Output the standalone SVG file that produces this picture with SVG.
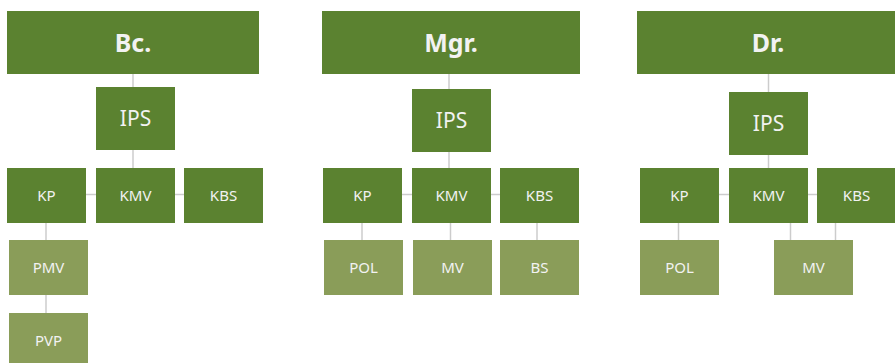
<svg xmlns="http://www.w3.org/2000/svg" width="895" height="363" viewBox="0 0 895 363">
<style>
.d{fill:#5b8230}
.l{fill:#8a9d59}
text{fill:#f2f2f2;font-family:"Noto Sans","Open Sans",sans-serif;text-anchor:middle}
.h{font-size:25px;font-weight:bold}
.m{font-size:21px}
.s{font-size:15px}
#conn line{stroke:#cccccc;stroke-width:1.5}
</style>
<rect width="895" height="363" fill="#ffffff"/>
<g id="conn">
<line x1="133" y1="74" x2="133" y2="87"/>
<line x1="133" y1="150" x2="133" y2="168"/>
<line x1="86" y1="194.5" x2="96" y2="194.5"/>
<line x1="175" y1="194.5" x2="184" y2="194.5"/>
<line x1="46" y1="223" x2="46" y2="240"/>
<line x1="46" y1="295" x2="46" y2="313"/>
<line x1="449" y1="74" x2="449" y2="89"/>
<line x1="449" y1="152" x2="449" y2="168"/>
<line x1="402" y1="194.5" x2="412" y2="194.5"/>
<line x1="491" y1="194.5" x2="500" y2="194.5"/>
<line x1="362" y1="223" x2="362" y2="240"/>
<line x1="450.5" y1="223" x2="450.5" y2="240"/>
<line x1="537" y1="223" x2="537" y2="240"/>
<line x1="768.5" y1="74" x2="768.5" y2="92"/>
<line x1="768.5" y1="155" x2="768.5" y2="168"/>
<line x1="719" y1="194.5" x2="729" y2="194.5"/>
<line x1="808" y1="194.5" x2="817" y2="194.5"/>
<line x1="678.5" y1="223" x2="678.5" y2="240"/>
<line x1="790.5" y1="223" x2="790.5" y2="240"/>
<line x1="835.5" y1="223" x2="835.5" y2="240"/>
</g>
<g id="bc"><rect class="d" x="7" y="11" width="252" height="63"/><text class="h" x="133" y="52">Bc.</text></g>
<g id="bc-ips"><rect class="d" x="96" y="87" width="79" height="63"/><text class="m" x="135.5" y="126">IPS</text></g>
<g id="bc-kp"><rect class="d" x="7" y="168" width="79" height="55"/><text class="s" x="46.5" y="201">KP</text></g>
<g id="bc-kmv"><rect class="d" x="96" y="168" width="79" height="55"/><text class="s" x="135.5" y="201">KMV</text></g>
<g id="bc-kbs"><rect class="d" x="184" y="168" width="79" height="55"/><text class="s" x="223.5" y="201">KBS</text></g>
<g id="bc-pmv"><rect class="l" x="9" y="240" width="79" height="55"/><text class="s" x="48.5" y="273">PMV</text></g>
<g id="bc-pvp"><rect class="l" x="9" y="313" width="79" height="55"/><text class="s" x="48.5" y="346">PVP</text></g>

<g id="mgr"><rect class="d" x="322" y="11" width="258" height="63"/><text class="h" x="451" y="52">Mgr.</text></g>
<g id="mgr-ips"><rect class="d" x="412" y="89" width="79" height="63"/><text class="m" x="451.5" y="128">IPS</text></g>
<g id="mgr-kp"><rect class="d" x="323" y="168" width="79" height="55"/><text class="s" x="362.5" y="201">KP</text></g>
<g id="mgr-kmv"><rect class="d" x="412" y="168" width="79" height="55"/><text class="s" x="451.5" y="201">KMV</text></g>
<g id="mgr-kbs"><rect class="d" x="500" y="168" width="79" height="55"/><text class="s" x="539.5" y="201">KBS</text></g>
<g id="mgr-pol"><rect class="l" x="324" y="240" width="79" height="55"/><text class="s" x="363.5" y="273">POL</text></g>
<g id="mgr-mv"><rect class="l" x="413" y="240" width="79" height="55"/><text class="s" x="452.5" y="273">MV</text></g>
<g id="mgr-bs"><rect class="l" x="500" y="240" width="79" height="55"/><text class="s" x="539.5" y="273">BS</text></g>

<g id="dr"><rect class="d" x="637" y="11" width="258" height="63"/><text class="h" x="768" y="52">Dr.</text></g>
<g id="dr-ips"><rect class="d" x="729" y="92" width="79" height="63"/><text class="m" x="768.5" y="131">IPS</text></g>
<g id="dr-kp"><rect class="d" x="640" y="168" width="79" height="55"/><text class="s" x="679.5" y="201">KP</text></g>
<g id="dr-kmv"><rect class="d" x="729" y="168" width="79" height="55"/><text class="s" x="768.5" y="201">KMV</text></g>
<g id="dr-kbs"><rect class="d" x="817" y="168" width="79" height="55"/><text class="s" x="856.5" y="201">KBS</text></g>
<g id="dr-pol"><rect class="l" x="640" y="240" width="79" height="55"/><text class="s" x="679.5" y="273">POL</text></g>
<g id="dr-mv"><rect class="l" x="774" y="240" width="79" height="55"/><text class="s" x="813.5" y="273">MV</text></g>
</svg>
